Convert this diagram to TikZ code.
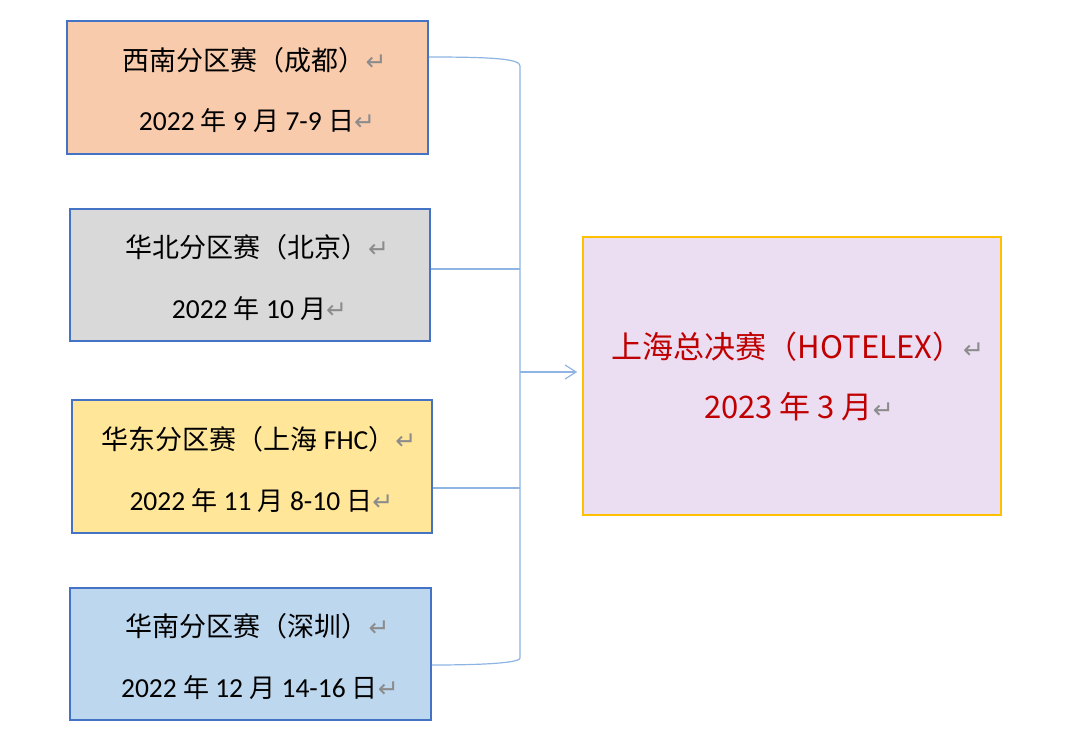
\documentclass[tikz,border=0pt]{standalone}
\usepackage{fontspec}
\setmainfont{Noto Sans CJK SC}
\newfontfamily\latf{Carlito}
\newfontfamily\dejav{DejaVu Sans}
\usetikzlibrary{arrows.meta,calc}
\definecolor{boxblue}{HTML}{4472C4}
\definecolor{linkblue}{HTML}{8EB4E3}
\definecolor{fillA}{HTML}{F8CBAD}
\definecolor{fillB}{HTML}{D9D9D9}
\definecolor{fillC}{HTML}{FFE699}
\definecolor{fillD}{HTML}{BDD7EE}
\definecolor{fillE}{HTML}{EBDEF3}
\definecolor{goldline}{HTML}{FFC000}
\definecolor{redtext}{HTML}{C00000}
\definecolor{retgray}{HTML}{8C8C8C}
\newcommand{\retmark}{{\dejav\color{retgray}\fontsize{25}{25}\selectfont ↵}}
\newcommand{\lnum}[1]{{\latf\fontsize{27.5}{61}\selectfont #1}}
\newcommand{\dcj}[1]{{\fontsize{26}{61}\selectfont #1}}
\begin{document}
\begin{tikzpicture}[x=1pt,y=-1pt,
  regbox/.style={draw=boxblue,line width=1.6pt,inner sep=0pt},
  regtext/.style={inner sep=0pt,align=center,yshift=-2.5pt,font=\fontsize{27}{61}\selectfont},
  link/.style={draw=linkblue,line width=1.2pt},
  finalbox/.style={draw=goldline,fill=fillE,line width=1.6pt,minimum width=418pt,minimum height=278pt,inner sep=0pt},
  finaltext/.style={inner sep=0pt,align=center,text=redtext,font=\fontsize{31}{60}\selectfont}]
\useasboundingbox (0,0) rectangle (1080,751);
\node[regbox,fill=fillA,minimum width=361pt,minimum height=133pt] (b1) at (247.5,87.5) {};
\node[regbox,fill=fillB,minimum width=360pt,minimum height=132pt] (b2) at (250,275) {};
\node[regbox,fill=fillC,minimum width=360pt,minimum height=133pt] (b3) at (252,466.5) {};
\node[regbox,fill=fillD,minimum width=361pt,minimum height=132pt] (b4) at (250.5,654) {};
\node[finalbox] (fin) at (792,376) {};
\node[regtext] (t1) at (b1.center)
  {\hspace*{14pt}西南分区赛（成都）\retmark\\\hspace*{19pt}\lnum{2022 }\dcj{年}\lnum{ 9 }\dcj{月}\lnum{ 7-9 }\dcj{日}\retmark};
\node[regtext] (t2) at (b2.center)
  {\hspace*{14pt}华北分区赛（北京）\retmark\\\hspace*{19pt}\lnum{2022 }\dcj{年}\lnum{ 10 }\dcj{月}\retmark};
\node[regtext] (t3) at (b3.center)
  {\hspace*{14pt}华东分区赛（上海\lnum{ FHC}）\retmark\\\hspace*{19pt}\lnum{2022 }\dcj{年}\lnum{ 11 }\dcj{月}\lnum{ 8-10 }\dcj{日}\retmark};
\node[regtext] (t4) at (b4.center)
  {\hspace*{14pt}华南分区赛（深圳）\retmark\\\hspace*{19pt}\lnum{2022 }\dcj{年}\lnum{ 12 }\dcj{月}\lnum{ 14-16 }\dcj{日}\retmark};
\node[finaltext] (tf) at (fin.center)
  {\hspace*{12pt}上海总决赛（HOTELEX）\retmark\\\hspace*{14pt}2023 年 3 月\retmark};
\coordinate (top) at (520,66);
\coordinate (bot) at (520,658);
\coordinate (j2) at (520,269);
\coordinate (j3) at (520,488);
\coordinate (jm) at (520,372);
\draw[link] (b1.east |- 0,57) .. controls (495,57) and (520,59) .. (top) -- (bot)
  .. controls (520,662) and (495,665) .. (b4.east |- 0,665);
\draw[link] (b2.east |- j2) -- (j2);
\draw[link] (b3.east |- j3) -- (j3);
\draw[link,-{Straight Barb[length=11pt,width=14pt,line width=1.2pt]}] (jm) -- ($(fin.west |- jm)+(-5,0)$);
\end{tikzpicture}
\end{document}
